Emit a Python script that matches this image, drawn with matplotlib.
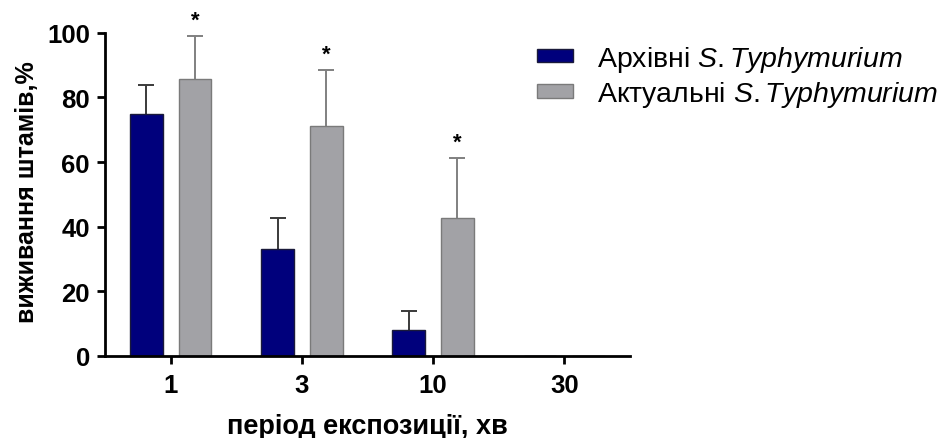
import matplotlib
matplotlib.use("Agg")
import matplotlib.pyplot as plt
import numpy as np
from matplotlib.patches import Patch

plt.rcParams['font.family'] = ['Liberation Sans', 'DejaVu Sans']
plt.rcParams['mathtext.fontset'] = 'custom'
plt.rcParams['mathtext.it'] = 'Liberation Sans:italic'
plt.rcParams['mathtext.rm'] = 'Liberation Sans'

categories = ["1", "3", "10", "30"]
archive_vals = [75.0, 33.1, 8.0, 0.0]
archive_err = [8.8, 9.7, 5.8, 0.0]
actual_vals = [85.6, 71.3, 42.6, 0.0]
actual_err = [13.3, 17.1, 18.7, 0.0]
significant = [True, True, True, False]
yticks = [0, 20, 40, 60, 80, 100]

fig = plt.figure(figsize=(9.47, 4.39), dpi=100)
ax = fig.add_axes([0.111, 0.187, 0.554, 0.736])

x = np.arange(len(categories))
w = 0.25
off = 0.185
blue = "#00007c"
grey = "#a2a2a6"

ax.bar(x - off, archive_vals, w, color=blue, edgecolor="#1a1a3a", linewidth=1.0, zorder=2)
ax.bar(x + off, actual_vals, w, color=grey, edgecolor="#7a7a7a", linewidth=1.0, zorder=2)

mask_a = np.array(archive_err) > 0
mask_b = np.array(actual_err) > 0
eb1 = ax.errorbar((x - off)[mask_a], np.array(archive_vals)[mask_a],
                  yerr=[np.zeros(mask_a.sum()), np.array(archive_err)[mask_a]], fmt="none",
                  ecolor="#3a3a3a", elinewidth=1.4, capsize=6, capthick=1.4, zorder=1)
eb2 = ax.errorbar((x + off)[mask_b], np.array(actual_vals)[mask_b],
                  yerr=[np.zeros(mask_b.sum()), np.array(actual_err)[mask_b]], fmt="none",
                  ecolor="#808080", elinewidth=1.4, capsize=6, capthick=1.4, zorder=1)
for eb in (eb1, eb2):
    eb[1][0].set_visible(False)  # hide lower caps

for xi, v, e, s in zip(x, actual_vals, actual_err, significant):
    if s:
        ax.annotate("*", (xi + off, v + e), xytext=(0, 4), textcoords="offset points",
                    ha="center", va="bottom", fontsize=16, fontweight="bold")

ax.set_xlim(-0.5, 3.5)
ax.set_ylim(0, 100)
ax.set_xticks(x)
ax.set_xticklabels(categories)
ax.set_yticks(yticks)
for lab in ax.get_xticklabels() + ax.get_yticklabels():
    lab.set_fontweight("bold")
    lab.set_fontsize(18.5)
ax.tick_params(axis="both", width=2, length=6, direction="out")
ax.tick_params(axis="x", pad=6)
ax.tick_params(axis="y", pad=5)
for s in ["top", "right"]:
    ax.spines[s].set_visible(False)
for s in ["left", "bottom"]:
    ax.spines[s].set_linewidth(2)

ax.set_ylabel("виживання штамів,%", fontsize=18, fontweight="bold")
ax.yaxis.set_label_coords(-0.126, 0.51)
ax.set_xlabel("період експозиції, хв", fontsize=19.5, fontweight="bold")
ax.xaxis.set_label_coords(0.5, -0.177)

handles = [Patch(facecolor=blue, edgecolor="#1a1a3a"), Patch(facecolor=grey, edgecolor="#7a7a7a")]
labels = [r"Архівні $\it{S.Typhymurium}$", r"Актуальні $\it{S.Typhymurium}$"]
fig.legend(handles, labels, loc="upper left", bbox_to_anchor=(0.558, 0.917), frameon=False,
           fontsize=20.5, handlelength=1.26, handleheight=0.35, labelspacing=0.18,
           handletextpad=0.84, borderaxespad=0.0, borderpad=0.3)

fig.savefig("out.png", dpi=100)
